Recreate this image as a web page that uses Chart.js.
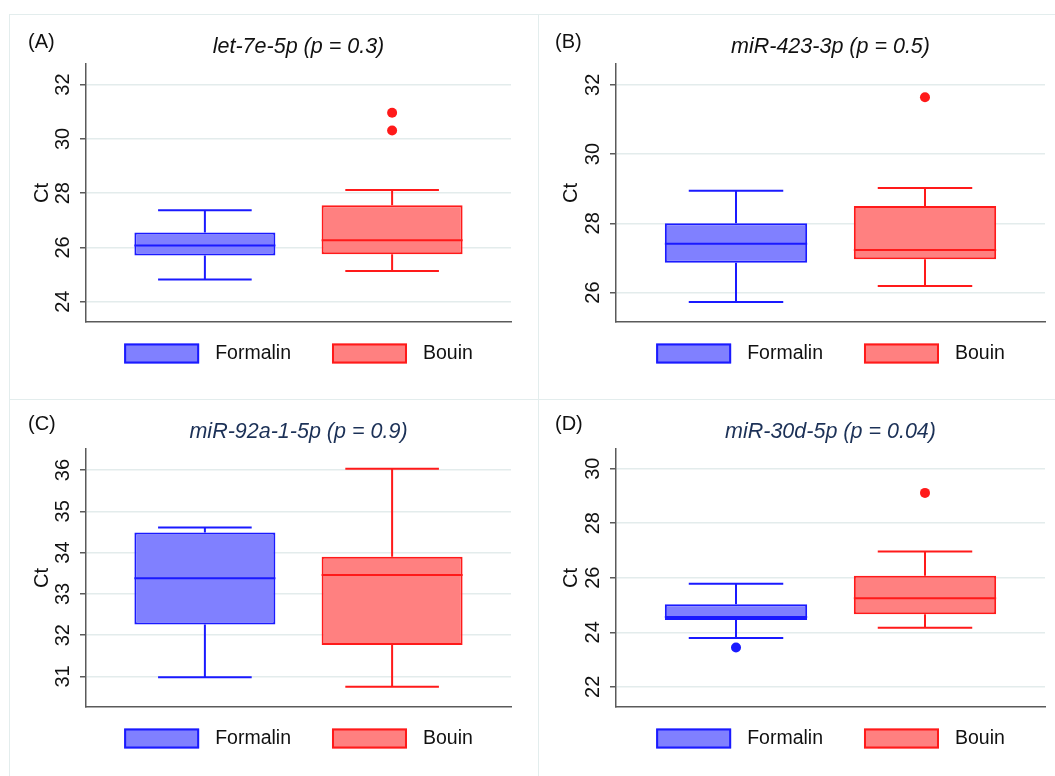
<!DOCTYPE html>
<html>
<head>
<meta charset="utf-8">
<title>Ct by fixative</title>
<script src="https://cdn.jsdelivr.net/npm/chart.js@4.4.0/dist/chart.umd.min.js"></script>
<style>
  html, body { margin: 0; padding: 0; background: #fff; }
  body { width: 1055px; height: 776px; position: relative; overflow: hidden; }
  .panel { position: absolute; border-top: 1px solid #e3eded; border-left: 1px solid #e3eded; }
  .panel canvas { display: block; }
</style>
</head>
<body>
<div class="panel" style="left:9px; top:14px;"><canvas id="chartA" width="528" height="384"></canvas></div>
<div class="panel" style="left:538px; top:14px;"><canvas id="chartB" width="516" height="384"></canvas></div>
<div class="panel" style="left:9px; top:399px;"><canvas id="chartC" width="528" height="376"></canvas></div>
<div class="panel" style="left:538px; top:399px;"><canvas id="chartD" width="516" height="376"></canvas></div>

<script>
// ---- data (one entry per panel, inner pairs are [Formalin, Bouin]) ----
const groups = ['Formalin', 'Bouin'];
const groupPos = [1, 2];
const panelTags = ['(A)', '(B)', '(C)', '(D)'];
const panelTitles = ['let-7e-5p (p = 0.3)', 'miR-423-3p (p = 0.5)', 'miR-92a-1-5p (p = 0.9)', 'miR-30d-5p (p = 0.04)'];

const whiskerLow  = [[24.82, 25.13], [25.73, 26.19], [30.98, 30.75], [23.79, 24.17]];
const quart1      = [[25.70, 25.75], [26.86, 26.96], [32.26, 31.76], [24.45, 24.66]];
const medians     = [[26.07, 26.26], [27.41, 27.23], [33.38, 33.46], [24.56, 25.25]];
const quart3      = [[26.55, 27.55], [28.00, 28.50], [34.49, 33.90], [25.03, 26.07]];
const whiskerHigh = [[27.37, 28.12], [28.94, 29.02], [34.61, 36.03], [25.78, 26.96]];
const outliers    = [[[], [30.96, 30.31]], [[], [31.64]], [[], []], [[23.44], [29.11]]];

const yMin  = [23.25, 25.15, 30.26, 21.26];
const yMax  = [32.76, 32.60, 36.51, 30.72];
const yStep = [2, 2, 1, 2];

// ---- styling ----
const fillColors = ['#8080ff', '#ff8080'];
const lineColors = ['#1a1aff', '#ff1a1a'];
const gridColor = '#e3ecec';
const axisColor = '#5a5a5a';
const textColor = '#111111';
const titleColors = ['#111111', '#111111', '#1c3157', '#1c3157'];
const fontFamily = '"Liberation Sans", Arial, Helvetica, sans-serif';

Chart.defaults.font.family = fontFamily;
Chart.defaults.color = textColor;

// whiskers, caps and median lines, placed with the chart's own scales
const boxWhiskers = {
  id: 'boxWhiskers',
  afterDatasetsDraw(chart, args, opts) {
    const i = opts.panel;
    const { ctx, scales: { x, y } } = chart;
    const meta = chart.getDatasetMeta(0);
    ctx.save();
    ctx.lineWidth = 2;
    meta.data.forEach((bar, g) => {
      const { x: cx, width } = bar.getProps(['x', 'width'], true);
      const capHalf = x.getPixelForValue(groupPos[g] + opts.capHalfWidth) - x.getPixelForValue(groupPos[g]);
      const yHi = y.getPixelForValue(whiskerHigh[i][g]);
      const yQ3 = y.getPixelForValue(quart3[i][g]);
      const yQ1 = y.getPixelForValue(quart1[i][g]);
      const yLo = y.getPixelForValue(whiskerLow[i][g]);
      const yMed = y.getPixelForValue(medians[i][g]);
      ctx.strokeStyle = lineColors[g];
      ctx.beginPath();
      ctx.moveTo(cx, yQ3); ctx.lineTo(cx, yHi);
      ctx.moveTo(cx - capHalf, yHi); ctx.lineTo(cx + capHalf, yHi);
      ctx.moveTo(cx, yQ1); ctx.lineTo(cx, yLo);
      ctx.moveTo(cx - capHalf, yLo); ctx.lineTo(cx + capHalf, yLo);
      ctx.moveTo(cx - width / 2, yMed); ctx.lineTo(cx + width / 2, yMed);
      ctx.stroke();
    });
    ctx.restore();
  }
};

// legend under the plot, centred on the plot area
const groupLegend = {
  id: 'groupLegend',
  afterDraw(chart, args, opts) {
    const { ctx, chartArea } = chart;
    ctx.save();
    ctx.font = opts.fontSize + 'px ' + fontFamily;
    const widths = groups.map(t => ctx.measureText(t).width);
    const total = widths.reduce((s, w) => s + opts.boxWidth + opts.textGap + w, 0) + opts.itemGap * (groups.length - 1);
    let xPos = (chartArea.left + chartArea.right) / 2 - total / 2;
    const top = chartArea.bottom + opts.offset;
    groups.forEach((name, g) => {
      ctx.fillStyle = fillColors[g];
      ctx.fillRect(xPos, top, opts.boxWidth, opts.boxHeight);
      ctx.strokeStyle = lineColors[g];
      ctx.lineWidth = 2;
      ctx.strokeRect(xPos + 1, top + 1, opts.boxWidth - 2, opts.boxHeight - 2);
      ctx.fillStyle = textColor;
      ctx.textAlign = 'left';
      ctx.textBaseline = 'middle';
      ctx.fillText(name, xPos + opts.boxWidth + opts.textGap, top + opts.boxHeight / 2);
      xPos += opts.boxWidth + opts.textGap + widths[g] + opts.itemGap;
    });
    ctx.restore();
  }
};

// panel letter in the top-left corner
const panelTag = {
  id: 'panelTag',
  afterDraw(chart, args, opts) {
    const { ctx } = chart;
    ctx.save();
    ctx.font = opts.fontSize + 'px ' + fontFamily;
    ctx.fillStyle = textColor;
    ctx.textAlign = 'left';
    ctx.textBaseline = 'middle';
    ctx.fillText(opts.text, opts.x, opts.y);
    ctx.restore();
  }
};

function makeChart(canvasId, i) {
  const leftCol = i % 2 === 0;
  const topRow = i < 2;

  const points = [];
  const pointColors = [];
  outliers[i].forEach((vals, g) => {
    vals.forEach(v => {
      points.push({ x: groupPos[g], y: v });
      pointColors.push(lineColors[g]);
    });
  });

  return new Chart(document.getElementById(canvasId), {
    type: 'bar',
    data: {
      datasets: [
        {
          label: 'IQR',
          data: groupPos.map((x, g) => ({ x, y: [quart1[i][g], quart3[i][g]] })),
          backgroundColor: fillColors,
          borderColor: lineColors,
          borderWidth: 2,
          borderSkipped: false,
          barPercentage: 0.753,
          categoryPercentage: 1
        },
        {
          type: 'scatter',
          label: 'Outliers',
          data: points,
          backgroundColor: pointColors,
          borderWidth: 0,
          pointRadius: 5
        }
      ]
    },
    plugins: [boxWhiskers, groupLegend, panelTag],
    options: {
      responsive: false,
      animation: false,
      layout: { padding: { left: 10, right: leftCol ? 27 : 10, top: 0, bottom: topRow ? 77 : 69 } },
      plugins: {
        legend: { display: false },
        tooltip: { enabled: false },
        title: {
          display: true,
          text: panelTitles[i],
          color: titleColors[i],
          fullSize: false,
          font: { size: 21.5, style: 'italic', weight: 'normal' },
          padding: { top: 19.6, bottom: 3.6 }
        },
        boxWhiskers: { panel: i, capHalfWidth: 0.25 },
        groupLegend: { fontSize: 19.5, boxWidth: 75, boxHeight: 20, textGap: 16, itemGap: 41, offset: 21.5 },
        panelTag: { text: panelTags[i], fontSize: 20, x: leftCol ? 18 : 16, y: topRow ? 27 : 24 }
      },
      scales: {
        x: {
          type: 'linear',
          min: 0.365,
          max: 2.635,
          offset: false,
          afterFit: s => { s.height = 0; },
          ticks: { display: false, stepSize: 1, includeBounds: false },
          grid: { display: false },
          border: { color: axisColor, width: 1.5 }
        },
        y: {
          type: 'linear',
          min: yMin[i],
          max: yMax[i],
          beginAtZero: false,
          afterFit: s => { s.width = leftCol ? 66 : 67; },
          ticks: {
            stepSize: yStep[i],
            includeBounds: false,
            minRotation: 90,
            maxRotation: 90,
            crossAlign: 'center',
            padding: 5,
            color: textColor,
            font: { size: 20 }
          },
          grid: { color: gridColor, lineWidth: 1.5, tickColor: axisColor, tickLength: 6, tickWidth: 1.5 },
          border: { color: axisColor, width: 1.5 },
          title: { display: true, text: 'Ct', color: textColor, font: { size: 20 }, padding: { top: 10, bottom: 0 } }
        }
      }
    }
  });
}

['chartA', 'chartB', 'chartC', 'chartD'].forEach((id, i) => {
  try { makeChart(id, i); } catch (e) { console.error('chart error', id, e); }
});
</script>
</body>
</html>
